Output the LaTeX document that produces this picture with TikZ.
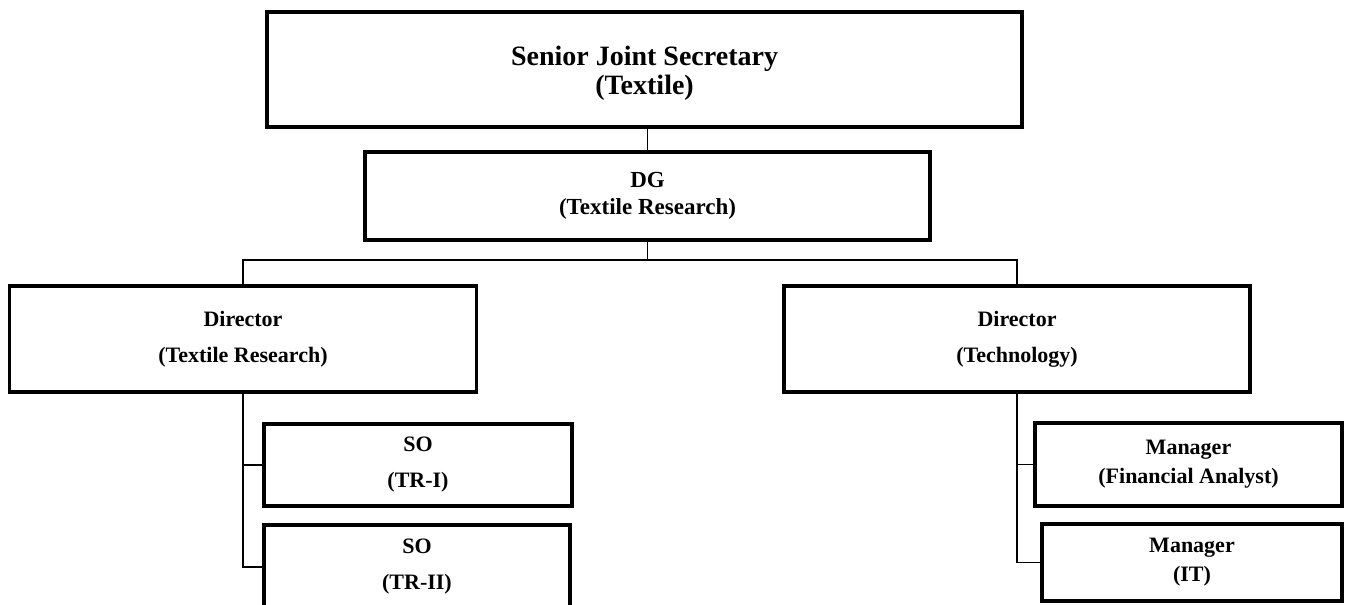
\documentclass[tikz,border=0pt]{standalone}
\usepackage{fontspec}
\setmainfont{Liberation Serif}
\begin{document}
\begin{tikzpicture}[x=1pt,y=-1pt,
  box/.style={draw=black, line width=3.5pt, rectangle, inner sep=0pt, outer sep=0pt, align=center, fill=white},
  conn/.style={draw=black, line width=1.8pt},
  ftop/.style={font=\fontsize{28}{29}\selectfont\bfseries},
  fdg/.style={font=\fontsize{23}{27}\selectfont\bfseries},
  fdir/.style={font=\fontsize{22}{36}\selectfont\bfseries},
  fso/.style={font=\fontsize{22}{36}\selectfont\bfseries},
  fmgr/.style={font=\fontsize{22}{29}\selectfont\bfseries}]
\fill[white] (0,0) rectangle (1352,605);
\useasboundingbox (0,0) rectangle (1352,605);
\clip (0,0) rectangle (1352,605);
\node[box, minimum width=755pt, minimum height=115pt] (top) at (644.5,69.5) {};
\node[ftop, align=center, inner sep=0pt] (toptext) at (644.5,73) {Senior Joint Secretary\\(Textile)};
\node[box, fdg, minimum width=565pt, minimum height=88pt] (dg) at (647.5,196) {DG\\(Textile Research)};
\node[box, fdir, minimum width=467pt, minimum height=106pt] (ldir) at (243,339) {Director\\(Textile Research)};
\node[box, fdir, minimum width=466pt, minimum height=106pt] (rdir) at (1017,339) {Director\\(Technology)};
\node[box, fso, minimum width=308pt, minimum height=82pt] (so1) at (418,465) {SO\\(TR-I)};
\node[box, fso, minimum width=306pt, minimum height=84pt] (so2) at (417,567) {SO\\(TR-II)};
\node[box, fmgr, minimum width=307pt, minimum height=83pt] (m1) at (1188.5,464.5) {Manager\\(Financial Analyst)};
\node[box, fmgr, minimum width=300pt, minimum height=77pt] (m2) at (1192,562.5) {Manager\\(IT)};
\draw[conn] (dg.north |- top.south) -- (dg.north);
\draw[conn] (dg.south) -- (dg.south |- 0,260);
\draw[conn] (ldir.north) -- ++(0,-26) -| (rdir.north);
\draw[conn] (ldir.south) |- (so2.west);
\draw[conn] (ldir.south |- so1.west) -- (so1.west);
\draw[conn] (rdir.south) |- (m2.west);
\draw[conn] (rdir.south |- m1.west) -- (m1.west);
\end{tikzpicture}
\end{document}
